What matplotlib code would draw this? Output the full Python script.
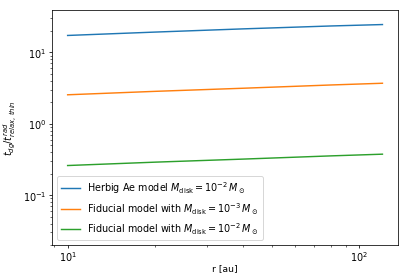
import numpy as np
import matplotlib.pyplot as plt

r = [10, 20, 40, 80, 120]
herbig = [17.3, 19.3, 21.4, 23.5, 24.6]
fid_m3 = [2.55, 2.85, 3.15, 3.5, 3.7]
fid_m2 = [0.26, 0.29, 0.32, 0.355, 0.375]

plt.rcParams['font.size'] = 10
plt.rcParams['xtick.major.pad'] = 1.5
plt.rcParams['ytick.major.pad'] = 2.5

fig, ax = plt.subplots(figsize=(6, 4), dpi=69.2)
fig.subplots_adjust(left=0.125, right=0.959, top=0.96, bottom=0.112)
ax.plot(r, herbig, label=r'Herbig Ae model $M_{\rm disk}=10^{-2}\,M_\odot$')
ax.plot(r, fid_m3, label=r'Fiducial model with $M_{\rm disk}=10^{-3}\,M_\odot$')
ax.plot(r, fid_m2, label=r'Fiducial model with $M_{\rm disk}=10^{-2}\,M_\odot$')
ax.set_xscale('log')
ax.set_yscale('log')
ax.set_ylim(0.02, 39)
ax.set_xlabel('r [au]', labelpad=0, fontsize=9.6)
ax.set_ylabel(r'$t_{dg}/t^{rad}_{relax,\,thin}$', labelpad=3)
ax.legend(loc='lower left')
plt.savefig('out.png')
